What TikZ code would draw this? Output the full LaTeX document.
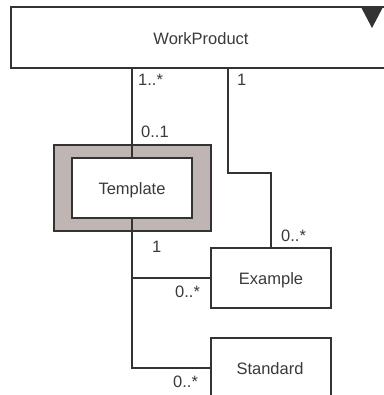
\documentclass[tikz,border=0pt]{standalone}
\usepackage{fontspec}
\setmainfont{Liberation Sans}
\definecolor{ln}{HTML}{333333}
\definecolor{tx}{HTML}{3A3A3A}
\definecolor{tg}{HTML}{BFB6B3}
\begin{document}
\begin{tikzpicture}[x=1pt,y=-1pt,
  cls/.style={draw=ln,line width=1.2pt,fill=white,rectangle,inner sep=0pt,text=tx,font=\fontsize{16.5}{18}\selectfont},
  lbl/.style={text=tx,inner sep=0pt,anchor=base west,font=\fontsize{16.5}{18}\selectfont},
  conn/.style={draw=ln,line width=1.2pt}]
\useasboundingbox (0,0) rectangle (383,395);
\node[cls,minimum width=380pt,minimum height=61pt] (wp) at (201,37.5) {};
\node[text=tx,font=\fontsize{16.5}{18}\selectfont,anchor=base] (wpt) at (201,45) {WorkProduct};
\fill[ln] (361,7) -- (383,7) -- (372,28) -- cycle;
\node[cls,fill=tg,minimum width=157pt,minimum height=86pt] (tplo) at (132.5,188) {};
\node[cls,minimum width=120pt,minimum height=60pt] (tpl) at (132,188) {};
\node[text=tx,font=\fontsize{16.5}{18}\selectfont,anchor=base] at (132,194) {Template};
\node[cls,minimum width=120pt,minimum height=60pt] (ex) at (271,278) {};
\node[text=tx,font=\fontsize{16.5}{18}\selectfont,anchor=base] at (271,284) {Example};
\node[cls,minimum width=120pt,minimum height=60pt] (st) at (271,368) {};
\node[text=tx,font=\fontsize{16.5}{18}\selectfont,anchor=base] at (270,374) {Standard};
\coordinate (b1) at (228,173);
\draw[conn] (wp.south -| tpl.north) -- (tpl.north);
\draw[conn] (b1 |- wp.south) -- (b1) -| (ex.north);
\draw[conn] (tpl.south) |- (ex.west);
\draw[conn] (tpl.south) |- (st.west);
\node[lbl] at (138,86) {1..*};
\node[lbl] at (237,86) {1};
\node[lbl] at (141,138) {0..1};
\node[lbl] at (152,252) {1};
\node[lbl] at (281,241) {0..*};
\node[lbl] at (175,297) {0..*};
\node[lbl] at (173,387) {0..*};
\end{tikzpicture}
\end{document}
